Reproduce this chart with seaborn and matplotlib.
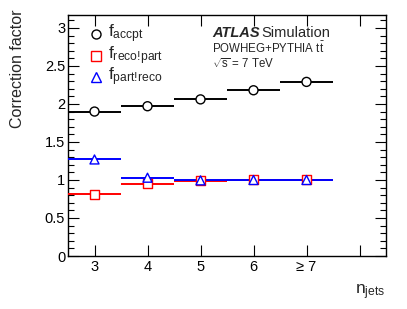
import numpy as np
import pandas as pd
import matplotlib
matplotlib.use("Agg")
import matplotlib.pyplot as plt
import seaborn as sns
from matplotlib.ticker import MultipleLocator

# ---- data ----
njets = [3, 4, 5, 6, 7]
tick_labels = ["3", "4", "5", "6", "\u2265 7", ""]
f_accpt = [1.90, 1.97, 2.06, 2.18, 2.29]
f_accpt_err = [0.01, 0.01, 0.015, 0.02, 0.05]
f_recopart = [0.81, 0.95, 0.99, 1.00, 1.00]
f_partreco = [1.27, 1.03, 0.995, 1.00, 1.00]
series_names = [r"$\mathrm{f}_{\mathrm{accpt}}$",
                r"$\mathrm{f}_{\mathrm{reco!\!part}}$",
                r"$\mathrm{f}_{\mathrm{part!\!reco}}$"]

sns.set_theme(style="ticks")
plt.rcParams["font.family"] = ["Liberation Sans", "DejaVu Sans"]
plt.rcParams["mathtext.fontset"] = "custom"
plt.rcParams["mathtext.rm"] = "Liberation Sans"
plt.rcParams["mathtext.it"] = "Liberation Sans:italic"
plt.rcParams["mathtext.bf"] = "Liberation Sans:bold"

fig = plt.figure(figsize=(4.07, 3.09), dpi=100)
ax = fig.add_axes([68 / 407, 53 / 309, 318 / 407, 241 / 309])

df = pd.DataFrame({
    "njets": njets * 3,
    "value": f_accpt + f_recopart + f_partreco,
    "series": [series_names[0]] * 5 + [series_names[1]] * 5 + [series_names[2]] * 5,
})

colors = ["black", "#ff0000", "#0000ff"]
markers = ["o", "s", "^"]
errs = [f_accpt_err, [0] * 5, [0] * 5]
vals = [f_accpt, f_recopart, f_partreco]

for i, name in enumerate(series_names):
    ax.errorbar(njets, vals[i], xerr=0.5, yerr=errs[i], fmt="none",
                ecolor=colors[i], elinewidth=1.4, capsize=0, zorder=2 + i)

sns.scatterplot(data=df, x="njets", y="value", hue="series", style="series",
                palette=dict(zip(series_names, colors)),
                markers=dict(zip(series_names, markers)),
                s=42, linewidth=1.0, ax=ax, legend=False, zorder=10)
coll = ax.collections[-1]
ec = coll.get_facecolors()
coll.set_edgecolors(ec)
coll.set_facecolors("white")

ax.set_xlim(2.5, 8.5)
ax.set_ylim(0, 3.17)
ax.set_xticks([3, 4, 5, 6, 7, 8])
ax.set_xticklabels(tick_labels)
ax.yaxis.set_minor_locator(MultipleLocator(0.1))
ax.set_yticks([0, 0.5, 1, 1.5, 2, 2.5, 3])
ax.set_yticklabels(["0", "0.5", "1", "1.5", "2", "2.5", "3"])
ax.tick_params(axis="both", which="both", direction="in", top=True, right=True,
               labelsize=10.5, colors="black", width=0.8)
ax.tick_params(axis="both", which="major", length=8)
ax.tick_params(axis="y", which="minor", length=4)
ax.tick_params(axis="x", pad=3)
ax.tick_params(axis="y", pad=2)
for sp in ax.spines.values():
    sp.set_linewidth(1.0)
    sp.set_color("black")
ax.set_xlabel("")
ax.set_ylabel("")

fig.text(18 / 407, 1 - 10 / 309, "Correction factor", rotation=90,
         ha="center", va="top", fontsize=11.5)
fig.text(385 / 407, 1 - 292 / 309, r"$\mathrm{n}_{\mathrm{jets}}$",
         ha="right", va="center", fontsize=12.5)

# legend
leg_y = [34, 56, 77]
for i, name in enumerate(series_names):
    y = 1 - leg_y[i] / 309
    fig.lines.append(plt.Line2D([96 / 407], [y], marker=markers[i], markersize=6.5,
                                markerfacecolor="none", markeredgecolor=colors[i],
                                markeredgewidth=1.0, linestyle="none",
                                transform=fig.transFigure))
    fig.text(108 / 407, y, name, ha="left", va="center", fontsize=12.5)

t_atlas = fig.text(212 / 407, 1 - 33 / 309, "ATLAS", fontweight="bold", fontstyle="italic",
                   ha="left", va="center", fontsize=10.5)
fig.canvas.draw()
bb = t_atlas.get_window_extent()
fig.text((bb.x1 + 2) / 407, 1 - 33 / 309, "Simulation", ha="left", va="center", fontsize=10.5)
fig.text(212 / 407, 1 - 48 / 309, r"POWHEG+PYTHIA t$\mathrm{\bar{t}}$",
         ha="left", va="center", fontsize=8.3)
fig.text(212 / 407, 1 - 64 / 309, r"$\sqrt{\mathrm{s}}$ = 7 TeV",
         ha="left", va="center", fontsize=8.3)

fig.savefig("out.png", dpi=100)
